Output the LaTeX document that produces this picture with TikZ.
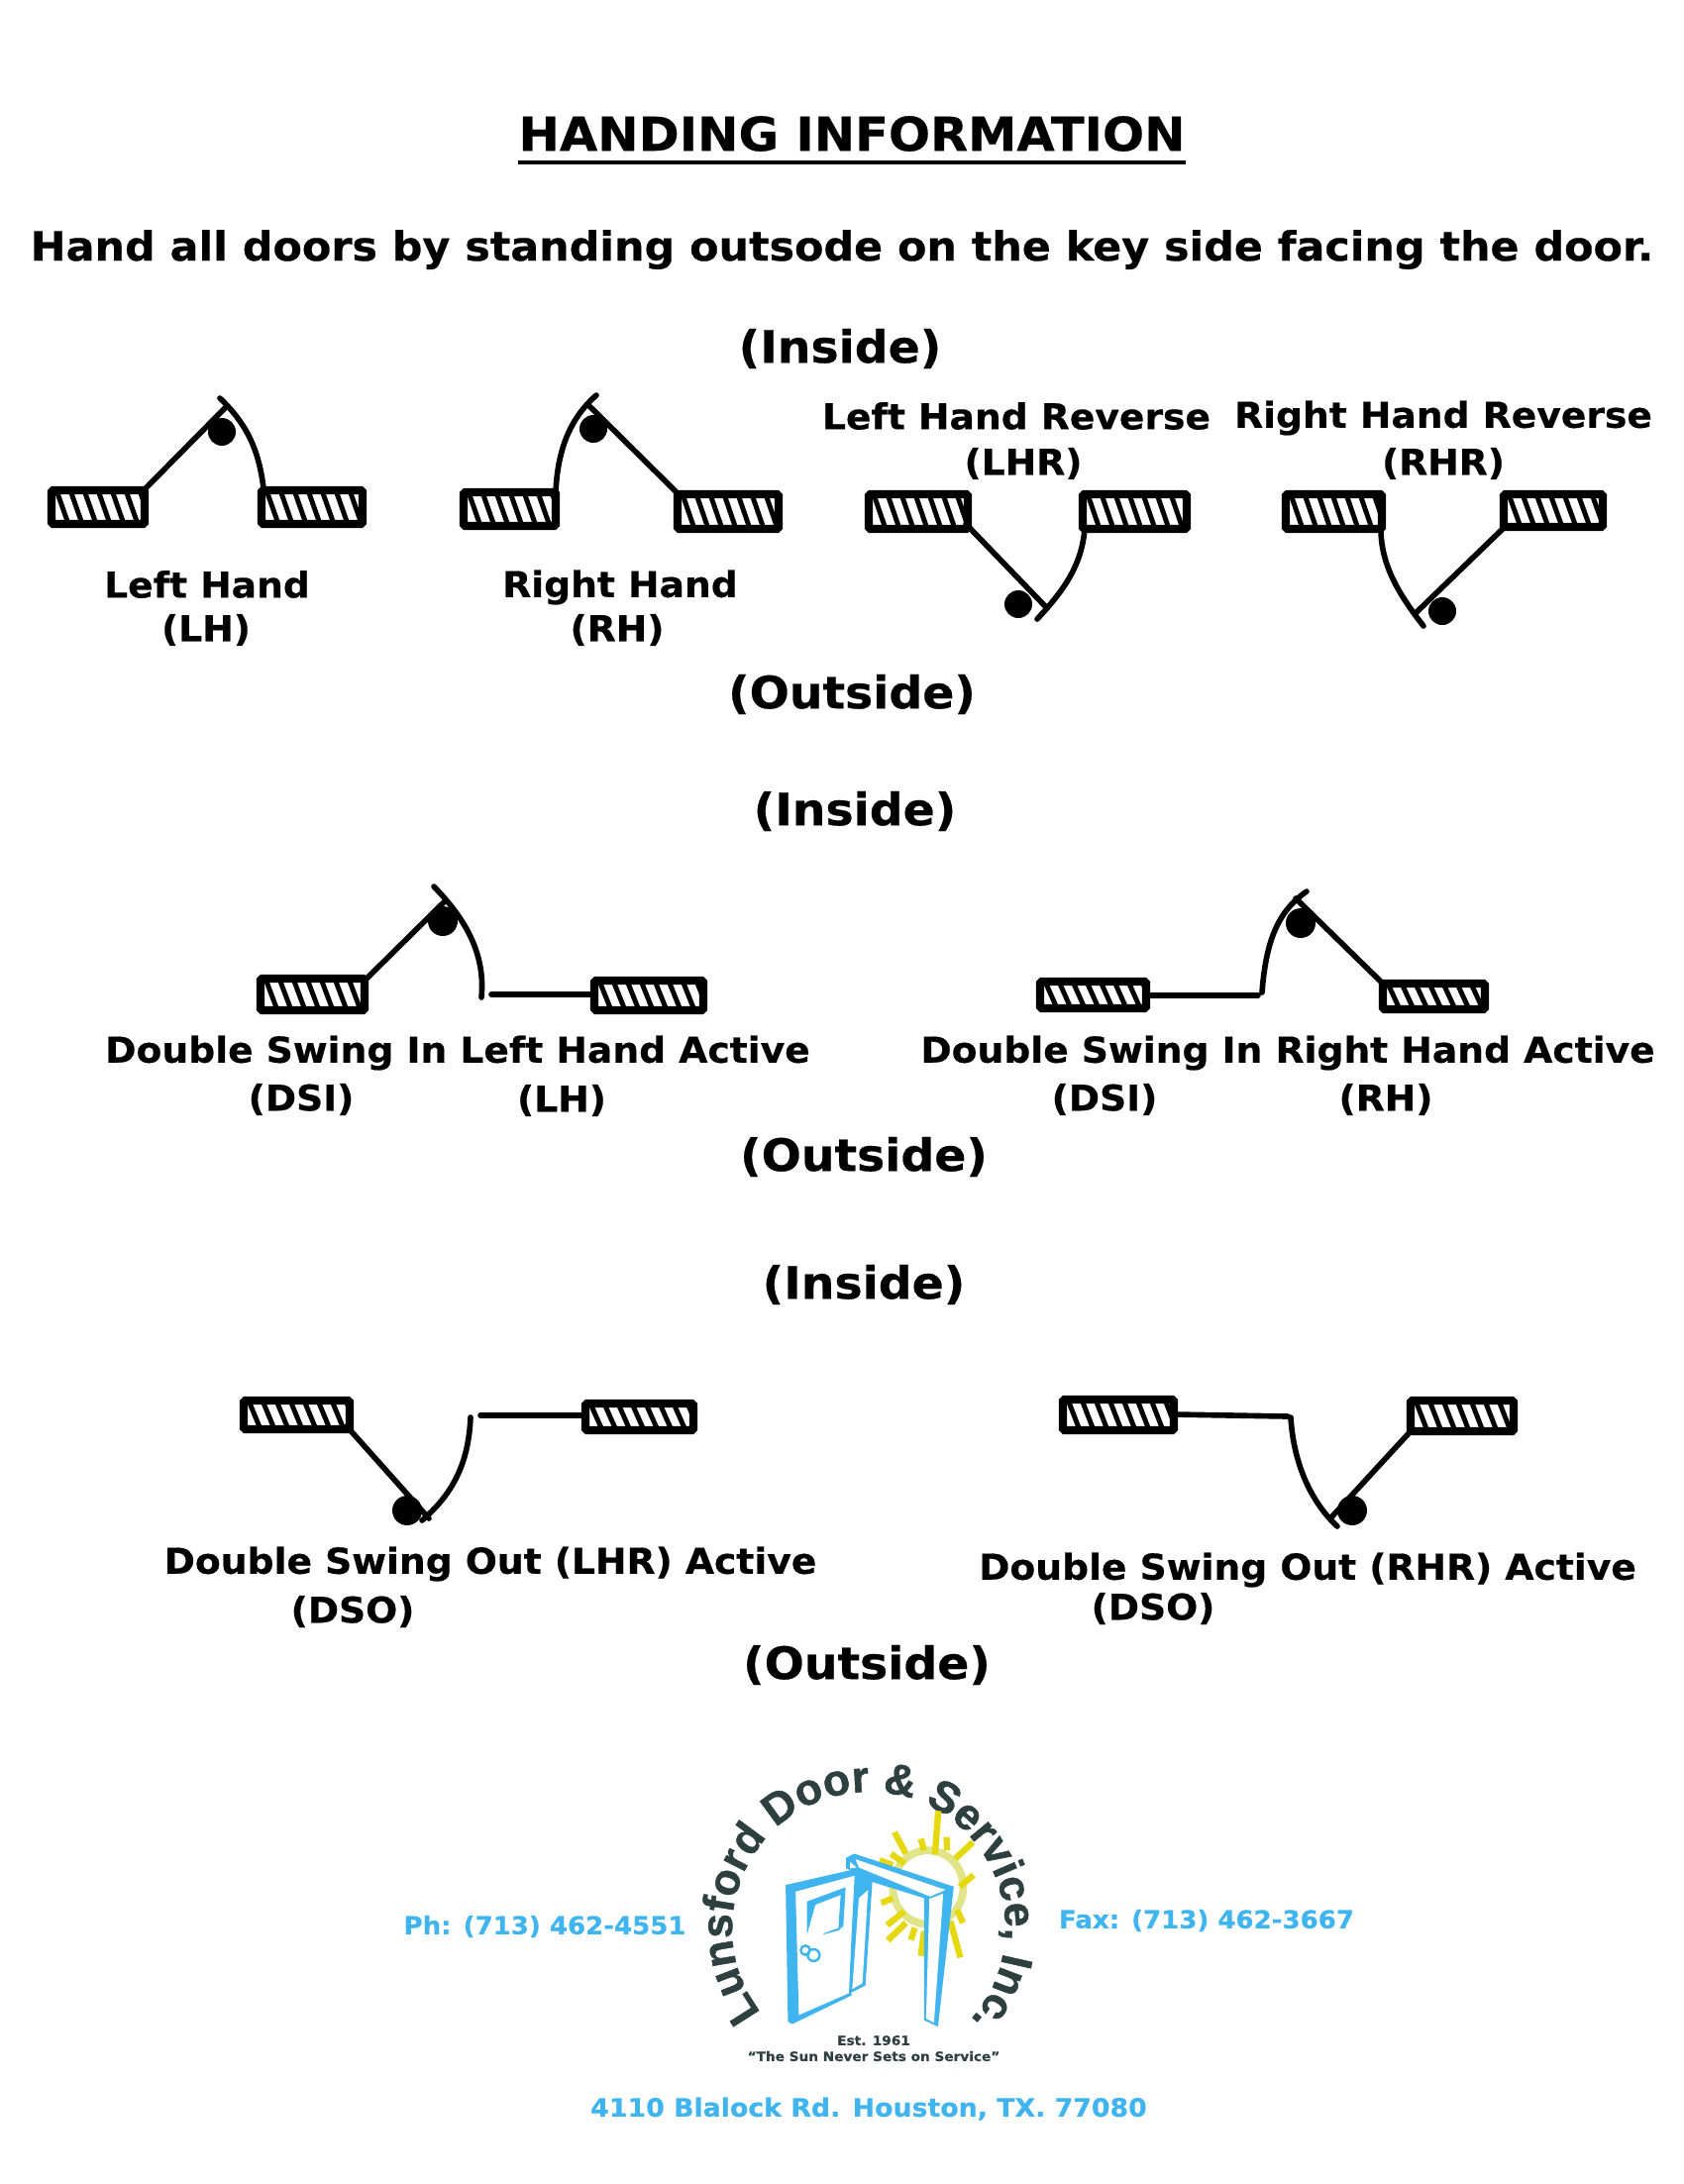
\documentclass[tikz,border=0pt]{standalone}
\usepackage{fontspec}
\usetikzlibrary{decorations.text}
\setmainfont[BoldFeatures={FakeStretch=1.05,FakeBold=0.5}]{DejaVu Sans}
\newfontfamily\logofont[BoldFeatures={FakeBold=1.2}]{Liberation Sans}

\definecolor{logoblue}{HTML}{3FB4EE}
\definecolor{logodark}{HTML}{2E3F3F}
\definecolor{sunray}{HTML}{E6D80F}
\definecolor{sunring}{HTML}{E2E48A}

\tikzset{
    titletext/.style={font=\bfseries\fontsize{13.4}{15}\selectfont, inner sep=0pt},
    headtext/.style={font=\bfseries\fontsize{12.8}{15}\selectfont, inner sep=0pt},
    sidetext/.style={font=\bfseries\fontsize{11.6}{13}\selectfont, inner sep=0pt},
    doortext/.style={font=\bfseries\fontsize{10.2}{12}\selectfont, inner sep=0pt},
    contacttext/.style={font=\bfseries\fontsize{7.05}{9}\selectfont, logoblue, inner sep=0pt},
    logotext/.style={font=\bfseries\fontsize{3.7}{5}\selectfont, logodark, inner sep=0pt},
    doorline/.style={line width=1.6pt, line cap=round},
    wallframe/.style={line width=2.4pt, rounded corners=0.5pt},
    wallhatch/.style={line width=1.4pt},
    sunline/.style={sunray, line width=1.8pt}
}

\newcommand{\wall}[4]{
    \begin{scope}
        \clip (#1, #2) rectangle (#3, #4);
        \foreach \n in {0, ..., 8} {
            \draw[wallhatch] ({#1 + \n*14 + 5}, #2) -- ({#1 + \n*14 + 17}, #4);
        }
    \end{scope}
    \draw[wallframe] (#1, #2) rectangle (#3, #4);
}

\begin{document}
\begin{tikzpicture}[x=0.01cm, y=-0.01cm]
    \useasboundingbox (0, 0) rectangle (1700, 2205);

    \node[titletext] (title) at (860, 135) {HANDING INFORMATION};
    \draw[line width=1pt] ([yshift=-3pt]title.south west) -- ([yshift=-3pt]title.south east);
    \node[sidetext] (howto) at (850, 252) {Hand all doors by standing outsode on the key side facing the door.};

    \node[headtext] (insideA) at (848, 352) {(Inside)};
    \node[headtext] (outsideA) at (860, 701) {(Outside)};
    \node[headtext] (insideB) at (863, 819) {(Inside)};
    \node[headtext] (outsideB) at (872, 1168) {(Outside)};
    \node[headtext] (insideC) at (872, 1297) {(Inside)};
    \node[headtext] (outsideC) at (875, 1681) {(Outside)};

    % left hand
    \wall{52}{495}{146}{529}
    \wall{264}{495}{366}{529}
    \draw[doorline] (147, 493) -- (227, 412);
    \draw[doorline] (266, 493) .. controls (261, 450) and (246, 425) .. (222, 402);
    \fill (224, 436) circle [radius=14];
    \node[doortext] (lhname) at (209, 590) {Left Hand};
    \node[doortext] (lhcode) at (208, 636) {(LH)};

    % right hand
    \wall{468}{497}{561}{531}
    \wall{684}{499}{786}{534}
    \draw[doorline] (684, 498) -- (594, 409);
    \draw[doorline] (561, 497) .. controls (563, 450) and (578, 420) .. (602, 399);
    \fill (599, 433) circle [radius=14];
    \node[doortext] (rhname) at (626, 593) {Right Hand};
    \node[doortext] (rhcode) at (623, 636) {(RH)};

    % left hand reverse
    \wall{877}{499}{977}{534}
    \wall{1093}{499}{1198}{534}
    \draw[doorline] (975, 529) -- (1057, 614);
    \draw[doorline] (1095, 534) .. controls (1092, 570) and (1075, 595) .. (1047, 625);
    \fill (1028, 610) circle [radius=14];
    \node[doortext] (lhrname) at (1026, 420) {Left Hand Reverse};
    \node[doortext] (lhrcode) at (1033, 468) {(LHR)};

    % right hand reverse
    \wall{1298}{499}{1395}{534}
    \wall{1518}{499}{1618}{532}
    \draw[doorline] (1519, 532) -- (1429, 619);
    \draw[doorline] (1394, 534) .. controls (1394, 570) and (1412, 600) .. (1437, 632);
    \fill (1456, 617) circle [radius=14];
    \node[doortext] (rhrname) at (1457, 422) {Right Hand Reverse};
    \node[doortext] (rhrcode) at (1457, 468) {(RHR)};

    % double swing in
    \wall{263}{988}{368}{1020}
    \wall{600}{990}{710}{1020}
    \draw[doorline] (496, 1004) -- (600, 1004);
    \draw[doorline] (368, 990) -- (449, 910);
    \draw[doorline] (486, 1007) .. controls (490, 965) and (472, 930) .. (438, 895);
    \fill (447, 930) circle [radius=15];
    \node[doortext] (dsilname) at (462, 1063) {Double Swing In Left Hand Active};
    \node[doortext] (dsilcode) at (304, 1110) {(DSI)};
    \node[doortext] (dsilhand) at (567, 1111) {(LH)};

    \wall{1050}{991}{1157}{1018}
    \wall{1396}{993}{1499}{1019}
    \draw[doorline] (1157, 1005) -- (1270, 1005);
    \draw[doorline] (1396, 993) -- (1308, 907);
    \draw[doorline] (1274, 1002) .. controls (1278, 950) and (1290, 920) .. (1319, 900);
    \fill (1313, 932) circle [radius=15];
    \node[doortext] (dsirname) at (1300, 1063) {Double Swing In Right Hand Active};
    \node[doortext] (dsircode) at (1115, 1110) {(DSI)};
    \node[doortext] (dsirhand) at (1399, 1110) {(RH)};

    % double swing out
    \wall{246}{1414}{353}{1443}
    \wall{591}{1417}{700}{1444}
    \draw[doorline] (485, 1429) -- (591, 1429);
    \draw[doorline] (350, 1440) -- (433, 1533);
    \draw[doorline] (475, 1431) .. controls (473, 1480) and (455, 1510) .. (426, 1535);
    \fill (411, 1525) circle [radius=15];
    \node[doortext] (dsolname) at (495, 1579) {Double Swing Out (LHR) Active};
    \node[doortext] (dsolcode) at (356, 1627) {(DSO)};

    \wall{1073}{1413}{1185}{1444}
    \wall{1424}{1414}{1528}{1445}
    \draw[doorline] (1185, 1428) -- (1300, 1430);
    \draw[doorline] (1424, 1445) -- (1343, 1533);
    \draw[doorline] (1303, 1431) .. controls (1306, 1480) and (1325, 1518) .. (1350, 1541);
    \fill (1365, 1525) circle [radius=15];
    \node[doortext] (dsorname) at (1320, 1585) {Double Swing Out (RHR) Active};
    \node[doortext] (dsorcode) at (1164, 1624) {(DSO)};

    % contact lines
    \node[contacttext] (phone) at (550, 1945) {Ph: (713) 462-4551};
    \node[contacttext] (fax) at (1218, 1939) {Fax: (713) 462-3667};
    \node[contacttext, font=\bfseries\fontsize{7.25}{9}\selectfont] (address) at (877, 2129) {4110 Blalock Rd. Houston, TX. 77080};

    % logo
    \path[decorate, decoration={text along path, text align={fit to path},
        text={|\logofont\bfseries\fontsize{12.6}{14}\selectfont\color{logodark}|Lunsford Door {\&} Service, Inc.}}]
        (877, 1947) ++(142:138) arc (142:402:138);
    \node[logotext] (founded) at (882, 2060) {Est. 1961};
    \node[logotext] (motto) at (882, 2076) {“The Sun Never Sets on Service”};

    \begin{scope}[shift={(650, 1740)}, x=0.00333cm, y=-0.00333cm]
        \draw[sunring, line width=2.2pt] (862, 497) ellipse [x radius=107, y radius=112];
        \draw[sunline] (893, 265) -- (883, 398);
        \draw[sunline] (760, 330) -- (795, 395);
        \draw[sunline] (840, 350) -- (850, 385);
        \draw[sunline] (918, 345) -- (920, 385);
        \draw[sunline] (998, 360) -- (945, 410);
        \draw[sunline] (1000, 460) -- (958, 495);
        \draw[sunline] (750, 395) -- (790, 425);
        \draw[sunline] (715, 415) -- (755, 430);
        \draw[sunline] (720, 545) -- (755, 530);
        \draw[sunline] (790, 570) -- (738, 612);
        \draw[sunline] (795, 605) -- (740, 658);
        \draw[sunline] (822, 620) -- (810, 657);
        \draw[sunline] (850, 630) -- (840, 705);
        \draw[sunline] (930, 600) -- (960, 710);
        \draw[sunline] (950, 565) -- (968, 605);

        % door leaf
        \fill[logoblue] (430, 490) -- (645, 441) -- (645, 460) -- (460, 510) -- (470, 885)
            -- (630, 815) -- (630, 825) -- (450, 912) -- (437, 905) -- cycle;
        \fill[logoblue] (640, 445) -- (693, 480) -- (672, 795) -- (622, 820) -- (630, 640) -- cycle;
        \fill[white] (652, 530) -- (680, 505) -- (663, 788) -- (632, 806) -- cycle;
        \fill[logoblue] (495, 540) -- (612, 497) -- (605, 615) -- (590, 620) -- (597, 520) -- (520, 550) -- (495, 640) -- cycle;
        \fill[logoblue] (545, 637) -- (605, 615) -- (590, 628) -- (545, 640) -- cycle;
        \draw[logoblue, line width=0.7pt] (490, 688) circle [radius=14];
        \draw[logoblue, line width=0.7pt] (515, 703) circle [radius=18];

        % door frame
        \fill[logoblue] (613, 408) -- (638, 395) -- (940, 495) -- (892, 920) -- (850, 900)
            -- (850, 530) -- (690, 480) -- (640, 450) -- (613, 440) -- cycle;
        \fill[white] (642, 412) -- (915, 505) -- (868, 525) -- (652, 437) -- cycle;
        \fill[white] (625, 420) -- (645, 437) -- (625, 440) -- cycle;
        \fill[white] (866, 532) -- (908, 516) -- (880, 908) -- (856, 895) -- cycle;
    \end{scope}
\end{tikzpicture}
\end{document}
